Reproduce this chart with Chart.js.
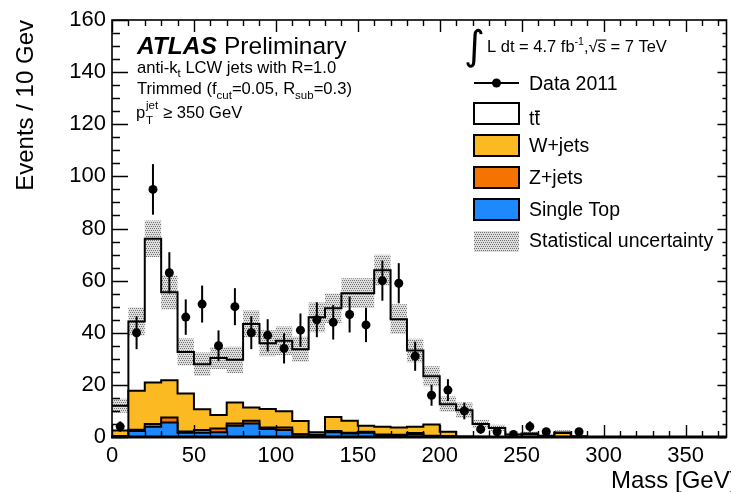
<!DOCTYPE html>
<html>
<head>
<meta charset="utf-8">
<script src="https://cdn.jsdelivr.net/npm/chart.js@4.4.1/dist/chart.umd.min.js"></script>
<style>
  html, body { margin: 0; padding: 0; background: #fff; }
  canvas { display: block; }
</style>
</head>
<body>
<canvas id="c" width="731" height="492"></canvas>
<script>
// Lower edges of the 10 GeV mass bins
const binLow = [0, 10, 20, 30, 40, 50, 60, 70, 80, 90, 100, 110, 120, 130, 140, 150,
                160, 170, 180, 190, 200, 210, 220, 230, 240, 250, 260, 270, 280, 290, 300];
const binWidth = 10;

// Observed events per bin and their error bars
const dataCounts = [4, 40, 95, 63, 46, 51, 35, 50, 40, 39, 34, 41, 45, 44, 47, 43,
                    60, 59, 31, 16, 18, 10, 3, 2, 1, 4, 2, 0, 2, 0, 0];
const dataErrors = [2.0, 6.3, 9.7, 7.9, 6.8, 7.1, 5.9, 7.1, 6.3, 6.2, 5.8, 6.4, 6.7, 6.6, 6.9, 6.6,
                    7.7, 7.7, 5.6, 4.0, 4.2, 3.2, 1.7, 1.4, 1.0, 2.0, 1.4, 0, 1.4, 0, 0];

// Expected contributions per bin
const ttbar = [9.5, 26.6, 55.2, 33.7, 15.9, 17.3, 21.9, 16.4, 32.1, 25.3, 27.0, 27.6, 44.1, 41.7, 49.0, 50.9,
               60.1, 41.6, 29.3, 18.5, 10.6, 10.1, 4.9, 3.5, 1.0, 0.2, 0.5, 0.2, 0.3, 0, 0];
const wJets = [2.1, 14.9, 15.9, 14.3, 14.6, 7.9, 5.1, 8.0, 5.1, 7.1, 6.3, 5.0, 0.9, 5.4, 4.6, 2.3,
               2.9, 2.7, 2.4, 4.3, 1.7, 0.2, 0.1, 0, 0, 1.1, 0, 1.5, 0, 0, 0];
const zJets = [0.2, 0.5, 1.1, 1.9, 0.5, 1.1, 1.5, 0.9, 1.0, 0.5, 0.9, 0.1, 0.6, 0.5, 0.3, 0.4,
               0.2, 0.4, 0.4, 0.2, 0.1, 0, 0, 0, 0, 0, 0, 0, 0, 0, 0];
const singleTop = [0.2, 2.3, 3.9, 5.6, 1.6, 1.6, 1.8, 4.3, 5.2, 3.1, 2.7, 1.0, 0.3, 1.8, 1.3, 1.6,
                   0.8, 0.5, 1.1, 0.3, 0.2, 0, 0, 0, 0, 0, 0, 0, 0, 0, 0];
// Statistical uncertainty on the total expectation
const statUnc = [2.7, 5.4, 7.0, 6.6, 5.2, 4.5, 4.2, 5.0, 5.1, 5.0, 5.5, 4.8, 5.7, 5.7, 5.7, 5.7,
                 5.9, 5.7, 4.5, 3.8, 2.9, 2.9, 1.6, 1.2, 0.6, 0.8, 0.4, 0.9, 0.3, 0, 0];

const xTicks = { min: 0, max: 375, step: 50, minor: 10 };
const yTicks = { min: 0, max: 160, step: 20, minor: 5 };

const FONT = "'Liberation Sans', Arial, Helvetica, sans-serif";
const COL_W = '#fbba22';
const COL_Z = '#f57300';
const COL_ST = '#1e88ff';

// cumulative stack heights, bottom layer first
function cumulative(...layers) {
  return layers[0].map((_, i) => layers.reduce((s, l) => s + l[i], 0));
}
const stackST = cumulative(singleTop);
const stackZ = cumulative(singleTop, zJets);
const stackW = cumulative(singleTop, zJets, wJets);
const stackTot = cumulative(singleTop, zJets, wJets, ttbar);

// histogram outline: each value is held across its bin
function steps(vals) {
  const pts = binLow.map((e, i) => ({ x: e, y: vals[i] }));
  pts.push({ x: binLow[binLow.length - 1] + binWidth, y: 0 });
  return pts;
}

const canvas = document.getElementById('c');
const mainCtx = canvas.getContext('2d');

// dotted grey fill used for the uncertainty band
function dotPattern() {
  const t = document.createElement('canvas');
  t.width = 4; t.height = 4;
  const g = t.getContext('2d');
  g.fillStyle = 'rgba(200,200,200,0.6)';
  g.fillRect(0, 0, 4, 4);
  g.fillStyle = 'rgba(95,95,95,0.85)';
  [[0, 0], [2, 0], [1, 2], [3, 2]].forEach(([x, y]) => g.fillRect(x, y, 1, 1));
  return mainCtx.createPattern(t, 'repeat');
}
const hatch = dotPattern();

function histLayer(label, vals, fillColor) {
  return {
    label,
    data: steps(vals),
    stepped: 'before',
    borderColor: '#000',
    borderWidth: 2,
    backgroundColor: fillColor || 'transparent',
    fill: fillColor ? 'origin' : false,
    pointRadius: 0,
    tension: 0
  };
}

const datasets = [
  {
    label: 'Data 2011',
    data: binLow.map((e, i) => ({ x: e + binWidth / 2, y: dataCounts[i] > 0 ? dataCounts[i] : null })),
    showLine: false,
    pointRadius: 4.5,
    pointBackgroundColor: '#000',
    pointBorderColor: '#000',
    pointBorderWidth: 0
  },
  histLayer('Single Top', stackST, COL_ST),
  histLayer('Z+jets', stackZ, COL_Z),
  histLayer('W+jets', stackW, COL_W),
  histLayer('tt', stackTot, null),
  {
    label: 'stat up',
    data: steps(stackTot.map((v, i) => v + statUnc[i])),
    stepped: 'before',
    borderWidth: 0,
    borderColor: 'transparent',
    backgroundColor: hatch,
    fill: { target: 6 },
    pointRadius: 0
  },
  {
    label: 'stat down',
    data: steps(stackTot.map((v, i) => Math.max(0, v - statUnc[i]))),
    stepped: 'before',
    borderWidth: 0,
    borderColor: 'transparent',
    fill: false,
    pointRadius: 0
  }
];

// draw text made of pieces with their own size and vertical offset
function rich(ctx, x, y, parts) {
  let cx = x;
  parts.forEach(p => {
    ctx.font = `${p.style || ''} ${p.size}px ${p.family || FONT}`;
    ctx.fillText(p.t, cx, y + (p.dy || 0));
    cx += ctx.measureText(p.t).width + (p.gap || 0);
  });
  return cx;
}

const decor = {
  id: 'decor',
  afterDatasetsDraw(chart) {
    const { ctx, chartArea: a, scales: { x, y } } = chart;
    ctx.save();
    // error bars on the data points
    ctx.strokeStyle = '#000';
    ctx.lineWidth = 2;
    binLow.forEach((e, i) => {
      if (dataCounts[i] <= 0) return;
      const px = x.getPixelForValue(e + binWidth / 2);
      ctx.beginPath();
      ctx.moveTo(px, y.getPixelForValue(dataCounts[i] + dataErrors[i]));
      ctx.lineTo(px, y.getPixelForValue(Math.max(0, dataCounts[i] - dataErrors[i])));
      ctx.stroke();
    });

    // frame
    ctx.lineWidth = 1.6;
    ctx.strokeRect(a.left, a.top, a.right - a.left, a.bottom - a.top);
    ctx.lineWidth = 3;
    ctx.beginPath();
    ctx.moveTo(a.left - 1, a.bottom);
    ctx.lineTo(a.right, a.bottom);
    ctx.stroke();

    // inward tick marks
    ctx.lineWidth = 1.4;
    ctx.beginPath();
    for (let v = xTicks.min; v < xTicks.max; v += xTicks.minor) {
      const px = Math.round(x.getPixelForValue(v)) + 0.5;
      const len = v % xTicks.step === 0 ? 12 : 6;
      ctx.moveTo(px, a.bottom); ctx.lineTo(px, a.bottom - len);
      ctx.moveTo(px, a.top); ctx.lineTo(px, a.top + len);
    }
    for (let v = yTicks.min; v <= yTicks.max; v += yTicks.minor) {
      const py = Math.round(y.getPixelForValue(v)) + 0.5;
      const major = v % yTicks.step === 0;
      ctx.moveTo(a.left, py); ctx.lineTo(a.left + (major ? 16 : 8), py);
      ctx.moveTo(a.right, py); ctx.lineTo(a.right - (major ? 9 : 4), py);
    }
    ctx.stroke();
    ctx.restore();
  },
  afterDraw(chart) {
    const { ctx } = chart;
    ctx.save();
    ctx.fillStyle = '#000';
    ctx.textAlign = 'left';
    ctx.textBaseline = 'alphabetic';

    // axis titles
    ctx.font = `24px ${FONT}`;
    ctx.fillText('Mass [GeV]', 611, 488);
    ctx.save();
    ctx.translate(33, 20);
    ctx.rotate(-Math.PI / 2);
    ctx.textAlign = 'right';
    ctx.fillText('Events / 10 Gev', 0, 0);
    ctx.restore();

    // experiment label and selection
    ctx.font = `italic bold 24.5px ${FONT}`;
    ctx.fillText('ATLAS', 137, 54);
    ctx.font = `24.5px ${FONT}`;
    ctx.fillText('Preliminary', 224, 54);
    rich(ctx, 137, 73, [
      { t: 'anti-k', size: 16.6 }, { t: 't', size: 11.5, dy: 4 }, { t: ' LCW jets with R=1.0', size: 16.6 }
    ]);
    rich(ctx, 137, 94, [
      { t: 'Trimmed (f', size: 16.6 }, { t: 'cut', size: 11.5, dy: 5 }, { t: '=0.05, R', size: 16.6 },
      { t: 'sub', size: 11.5, dy: 5 }, { t: '=0.3)', size: 16.6 }
    ]);
    ctx.font = `16.6px ${FONT}`;
    ctx.fillText('p', 136, 118);
    ctx.font = `11.5px ${FONT}`;
    ctx.fillText('jet', 146, 109);
    ctx.fillText('T', 146, 124);
    ctx.font = `16.6px ${FONT}`;
    ctx.fillText('\u2265 350 GeV', 163, 118);

    // luminosity and energy
    ctx.font = `40px 'DejaVu Sans', ${FONT}`;
    ctx.fillText('\u222B', 464, 59);
    let cx = rich(ctx, 487, 52, [
      { t: 'L dt = 4.7 fb', size: 16.5 }, { t: '-1', size: 10.5, dy: -7 }, { t: ',', size: 16.5 }
    ]);
    ctx.font = `16.5px ${FONT}`;
    ctx.fillText('\u221A', cx, 52);
    cx += ctx.measureText('\u221A').width;
    const sW = ctx.measureText('s').width;
    ctx.fillText('s', cx, 52);
    ctx.fillRect(cx, 39.5, sW + 0.5, 1.2);
    cx += sW;
    ctx.fillText(' = 7 TeV', cx, 52);

    // legend
    const lx = 474, lw = 45, tx = 529;
    ctx.lineWidth = 2;
    ctx.strokeStyle = '#000';
    ctx.beginPath();
    ctx.moveTo(lx, 83); ctx.lineTo(lx + lw, 83);
    ctx.stroke();
    ctx.beginPath();
    ctx.arc(lx + lw / 2, 83, 4.5, 0, Math.PI * 2);
    ctx.fill();

    const boxes = [
      { y: 103, fill: '#fff' },
      { y: 135, fill: COL_W },
      { y: 167, fill: COL_Z },
      { y: 199, fill: COL_ST }
    ];
    boxes.forEach(b => {
      ctx.fillStyle = b.fill;
      ctx.fillRect(lx, b.y, lw, 21);
      ctx.strokeRect(lx, b.y, lw, 21);
    });
    ctx.fillStyle = hatch;
    ctx.fillRect(lx, 231, lw, 21);

    ctx.fillStyle = '#000';
    ctx.font = `19.5px ${FONT}`;
    ctx.fillText('Data 2011', tx, 90);
    ctx.fillText('tt', tx, 125);
    const tW = ctx.measureText('t').width;
    ctx.fillRect(tx + tW + 0.5, 110.5, tW - 0.5, 1.5);
    ctx.fillText('W+jets', tx, 152);
    ctx.fillText('Z+jets', tx, 184);
    ctx.fillText('Single Top', tx, 216);
    ctx.fillText('Statistical uncertainty', tx, 247);
    ctx.restore();
  }
};

new Chart(canvas, {
  type: 'line',
  data: { datasets },
  options: {
    responsive: false,
    animation: false,
    devicePixelRatio: 1,
    layout: { padding: { top: 20, right: 2, left: 0, bottom: 0 } },
    plugins: { legend: { display: false }, tooltip: { enabled: false } },
    scales: {
      x: {
        type: 'linear',
        min: xTicks.min,
        max: xTicks.max,
        grid: { display: false, drawTicks: false },
        border: { display: false },
        ticks: {
          stepSize: xTicks.step,
          includeBounds: false,
          autoSkip: false,
          maxRotation: 0,
          padding: 6,
          color: '#000',
          font: { family: FONT, size: 22 }
        },
        afterFit: s => { s.height = 55; }
      },
      y: {
        min: yTicks.min,
        max: yTicks.max,
        grid: { display: false, drawTicks: false },
        border: { display: false },
        ticks: {
          stepSize: yTicks.step,
          padding: 6,
          color: '#000',
          font: { family: FONT, size: 22 }
        },
        afterFit: s => { s.width = 112; }
      }
    }
  },
  plugins: [decor]
});
</script>
</body>
</html>
